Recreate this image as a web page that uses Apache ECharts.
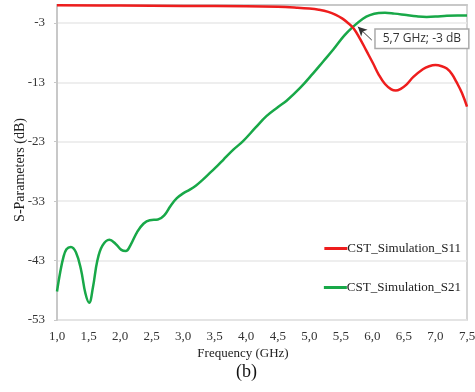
<!DOCTYPE html>
<html>
<head>
<meta charset="utf-8">
<script src="https://cdn.jsdelivr.net/npm/echarts@6/dist/echarts.min.js"></script>
<style>
  html, body { margin: 0; padding: 0; background: #fff; }
  #chart { width: 475px; height: 392px; }
</style>
</head>
<body>
<div id="chart"></div>
<script>
// S11 (red) and S21 (green), frequency in GHz, value in dB
var s11Freq = [1.0, 2.0, 3.0, 4.0, 4.5, 4.8, 5.0, 5.15, 5.3, 5.42, 5.52, 5.6, 5.7, 5.8, 5.9, 6.01, 6.1, 6.2, 6.3, 6.37, 6.45, 6.54, 6.65, 6.8, 6.9, 7.0, 7.1, 7.18, 7.26, 7.33, 7.42, 7.5];
var s11Val = [-0.05, -0.1, -0.15, -0.2, -0.3, -0.45, -0.6, -0.8, -1.15, -1.65, -2.25, -2.9, -3.9, -5.6, -7.6, -9.8, -11.7, -13.3, -14.2, -14.4, -14.1, -13.4, -12.1, -10.8, -10.3, -10.1, -10.3, -10.7, -11.6, -12.9, -14.8, -17.1];

var s21Freq = [1.0, 1.05, 1.1, 1.15, 1.22, 1.3, 1.38, 1.45, 1.51, 1.57, 1.64, 1.72, 1.83, 1.93, 2.02, 2.09, 2.17, 2.27, 2.37, 2.47, 2.6, 2.7, 2.8, 2.9, 3.0, 3.1, 3.2, 3.3, 3.42, 3.55, 3.64, 3.8, 3.95, 4.15, 4.32, 4.5, 4.64, 4.85, 5.06, 5.22, 5.38, 5.55, 5.7, 5.85, 5.96, 6.1, 6.2, 6.35, 6.54, 6.7, 6.86, 7.0, 7.18, 7.35, 7.5];
var s21Val = [-48.2, -45.0, -42.5, -41.1, -40.7, -41.6, -44.5, -48.5, -50.1, -47.5, -43.0, -40.5, -39.5, -40.2, -41.2, -41.4, -40.3, -38.2, -36.8, -36.2, -36.1, -35.4, -33.8, -32.5, -31.7, -31.1, -30.4, -29.5, -28.3, -27.0, -26.0, -24.3, -22.9, -20.6, -18.7, -17.2, -16.1, -14.0, -11.5, -9.5, -7.5, -5.2, -3.6, -2.3, -1.7, -1.35, -1.3, -1.45, -1.7, -1.9, -2.0, -1.95, -1.8, -1.75, -1.75];

var seriesNames = ['CST_Simulation_S11', 'CST_Simulation_S21'];
var annotText = '5,7 GHz; -3 dB';
var arrowTip = [5.77, -3.67];
var arrowTail = [5.99, -5.9];
var annotAt = [6.785, -5.69];

function pairs(xs, ys) {
    var out = [];
    for (var i = 0; i < xs.length; i++) out.push([xs[i], ys[i]]);
    return out;
}

var serif = '"Liberation Serif", "DejaVu Serif", serif';
var gridColor = '#c8c8c8';

var myChart = echarts.init(document.getElementById('chart'));
var option = {
    animation: false,
    title: {
        text: '(b)',
        left: 231,
        top: 358,
        textStyle: { fontFamily: serif, fontSize: 18, fontWeight: 'normal', color: '#111' }
    },
    legend: [
        {
            data: [seriesNames[0]],
            right: 9,
            top: 237,
            icon: 'rect',
            itemWidth: 23,
            itemHeight: 3,
            itemGap: 2,
            textStyle: { fontFamily: serif, fontSize: 13, color: '#222', padding: [0, 0, 0, -5] }
        },
        {
            data: [seriesNames[1]],
            right: 9,
            top: 276,
            icon: 'rect',
            itemWidth: 23,
            itemHeight: 3,
            itemGap: 2,
            textStyle: { fontFamily: serif, fontSize: 13, color: '#222', padding: [0, 0, 0, -5] }
        }
    ],
    grid: {
        left: 57,
        right: 8,
        top: 5,
        bottom: 72,
        show: true,
        borderColor: gridColor,
        borderWidth: 1.5,
        containLabel: false,
        outerBoundsMode: 'none'
    },
    xAxis: {
        type: 'value',
        min: 1,
        max: 7.5,
        interval: 0.5,
        name: 'Frequency (GHz)',
        nameLocation: 'middle',
        nameGap: 27,
        nameMoveOverlap: false,
        nameTextStyle: { fontFamily: serif, fontSize: 13, color: '#222', padding: [0, 38, 0, 0] },
        axisLine: { lineStyle: { color: gridColor, width: 2 } },
        axisTick: { show: false },
        splitLine: { show: false },
        axisLabel: {
            fontFamily: serif,
            fontSize: 13,
            color: '#333',
            margin: 10,
            formatter: function (v) { return v.toFixed(1).replace('.', ','); }
        }
    },
    yAxis: {
        type: 'value',
        min: -53,
        max: 0,
        interval: 10,
        name: 'S-Parameters (dB)',
        nameLocation: 'middle',
        nameGap: 30,
        nameMoveOverlap: false,
        nameTextStyle: { fontFamily: serif, fontSize: 14, color: '#222', padding: [0, 15, 0, 0] },
        axisLine: { show: true, lineStyle: { color: gridColor, width: 2 } },
        axisTick: { show: true, length: 3, lineStyle: { color: gridColor } },
        splitLine: { lineStyle: { color: '#e8e8e8', width: 1.5 } },
        axisLabel: {
            fontFamily: serif,
            fontSize: 13,
            color: '#333',
            margin: 12,
            showMaxLabel: false
        }
    },
    series: [
        {
            name: seriesNames[0],
            type: 'line',
            data: pairs(s11Freq, s11Val),
            smooth: 0.4,
            showSymbol: false,
            lineStyle: { color: '#ee1d1d', width: 2.5 },
            itemStyle: { color: '#ee1d1d' },
            z: 3
        },
        {
            name: seriesNames[1],
            type: 'line',
            data: pairs(s21Freq, s21Val),
            smooth: 0.4,
            showSymbol: false,
            lineStyle: { color: '#18a848', width: 2.5 },
            itemStyle: { color: '#18a848' },
            z: 2,
            markLine: {
                silent: true,
                symbol: ['arrow', 'none'],
                symbolSize: [7, 9],
                label: { show: false },
                lineStyle: { color: '#333', width: 1, type: 'solid' },
                data: [[{ coord: arrowTip }, { coord: arrowTail }]]
            },
            markPoint: {
                silent: true,
                symbol: 'rect',
                symbolSize: 1,
                itemStyle: { color: 'rgba(0,0,0,0)' },
                label: {
                    show: true,
                    position: 'inside',
                    formatter: annotText,
                    fontFamily: '"Open Sans", "DejaVu Sans", sans-serif',
                    fontSize: 12,
                    color: '#333',
                    backgroundColor: '#fff',
                    borderColor: '#aaa',
                    borderWidth: 1.5,
                    padding: [3, 7, 3, 7]
                },
                data: [{ coord: annotAt }]
            }
        }
    ]
};
myChart.setOption(option);
window.addEventListener('resize', function () {
    myChart.resize();
});
</script>
</body>
</html>
